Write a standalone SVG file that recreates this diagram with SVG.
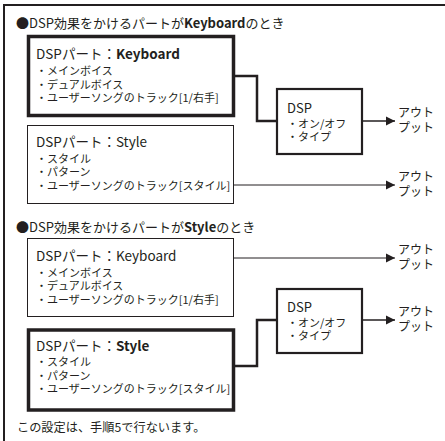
<svg xmlns="http://www.w3.org/2000/svg" width="445" height="441" viewBox="0 0 445 441">
<style>
text{font-family:"Noto Sans CJK JP","Noto Sans",sans-serif;fill:#231f20}
.h{font-size:13px}
.t{font-size:13.5px}
.i{font-size:11px}
.o{font-size:12px}
.b{font-weight:bold}
.thick{fill:#fff;stroke:#231f20;stroke-width:3.5}
.thin{fill:#fff;stroke:#231f20;stroke-width:1}
.dsp{fill:#fff;stroke:#231f20;stroke-width:2.2}
.c{fill:none;stroke:#231f20}
</style>
<defs>
<marker id="ah" markerWidth="10" markerHeight="10" refX="9" refY="5" orient="auto" markerUnits="userSpaceOnUse">
<path d="M0,0.5 L9,5 L0,9.5 Z" fill="#231f20"/>
</marker>
</defs>
<rect width="445" height="441" fill="#fff"/>
<path d="M4,441 V5 H445" fill="none" stroke="#231f20" stroke-width="2"/>

<text class="h" x="16" y="28">●DSP効果をかけるパートが<tspan class="b">Keyboard</tspan>のとき</text>
<text class="h" x="16" y="232">●DSP効果をかけるパートが<tspan class="b">Style</tspan>のとき</text>
<text x="17" y="432" style="font-size:12.2px">この設定は、手順5で行ないます。</text>

<g id="connectors">
<path class="c" stroke-width="2.5" d="M235,76 H257 V121 H277"/>
<path class="c" stroke-width="1.5" d="M362,121 H395" marker-end="url(#ah)"/>
<path class="c" stroke-width="1" d="M234,185 H395" marker-end="url(#ah)"/>
<path class="c" stroke-width="1" d="M234,258 H395" marker-end="url(#ah)"/>
<path class="c" stroke-width="2.5" d="M235,366 H257 V320 H277"/>
<path class="c" stroke-width="1.5" d="M362,320 H395" marker-end="url(#ah)"/>
</g>

<g id="part-keyboard-1">
<rect class="thick" x="28.5" y="36.5" width="205" height="79"/>
<text x="36" y="59"><tspan class="t">DSPパート：<tspan class="b">Keyboard</tspan></tspan><tspan class="i" x="36" dy="16">・メインボイス</tspan><tspan class="i" x="36" dy="13.5">・デュアルボイス</tspan><tspan class="i" x="36" dy="13.5">・ユーザーソングのトラック[1/右手]</tspan></text>
</g>

<g id="part-style-1">
<rect class="thin" x="27.5" y="125.5" width="206" height="78"/>
<text x="36" y="147"><tspan class="t">DSPパート：Style</tspan><tspan class="i" x="36" dy="15.5">・スタイル</tspan><tspan class="i" x="36" dy="13.5">・パターン</tspan><tspan class="i" x="36" dy="13.5">・ユーザーソングのトラック[スタイル]</tspan></text>
</g>

<g id="dsp-1">
<rect class="dsp" x="277" y="89" width="85" height="65"/>
<text x="287" y="113"><tspan class="t" style="font-size:13px">DSP</tspan><tspan class="i" x="287" dy="15">・オン/オフ</tspan><tspan class="i" x="287" dy="13">・タイプ</tspan></text>
</g>

<g id="out-1">
<text class="o" x="398" y="117">アウト<tspan x="398" dy="15">プット</tspan></text>
</g>
<g id="out-2">
<text class="o" x="398" y="181">アウト<tspan x="398" dy="15">プット</tspan></text>
</g>

<g id="part-keyboard-2">
<rect class="thin" x="27.5" y="238.5" width="206" height="78"/>
<text x="36" y="261"><tspan class="t">DSPパート：Keyboard</tspan><tspan class="i" x="36" dy="15.5">・メインボイス</tspan><tspan class="i" x="36" dy="13.5">・デュアルボイス</tspan><tspan class="i" x="36" dy="13.5">・ユーザーソングのトラック[1/右手]</tspan></text>
</g>

<g id="part-style-2">
<rect class="thick" x="28.5" y="330" width="205" height="80"/>
<text x="36" y="351"><tspan class="t">DSPパート：<tspan class="b">Style</tspan></tspan><tspan class="i" x="36" dy="15">・スタイル</tspan><tspan class="i" x="36" dy="13.5">・パターン</tspan><tspan class="i" x="36" dy="13.5">・ユーザーソングのトラック[スタイル]</tspan></text>
</g>

<g id="dsp-2">
<rect class="dsp" x="277" y="289" width="85" height="64"/>
<text x="287" y="312"><tspan class="t" style="font-size:13px">DSP</tspan><tspan class="i" x="287" dy="15">・オン/オフ</tspan><tspan class="i" x="287" dy="13">・タイプ</tspan></text>
</g>

<g id="out-3">
<text class="o" x="398" y="254">アウト<tspan x="398" dy="15">プット</tspan></text>
</g>
<g id="out-4">
<text class="o" x="398" y="316">アウト<tspan x="398" dy="15">プット</tspan></text>
</g>
</svg>
